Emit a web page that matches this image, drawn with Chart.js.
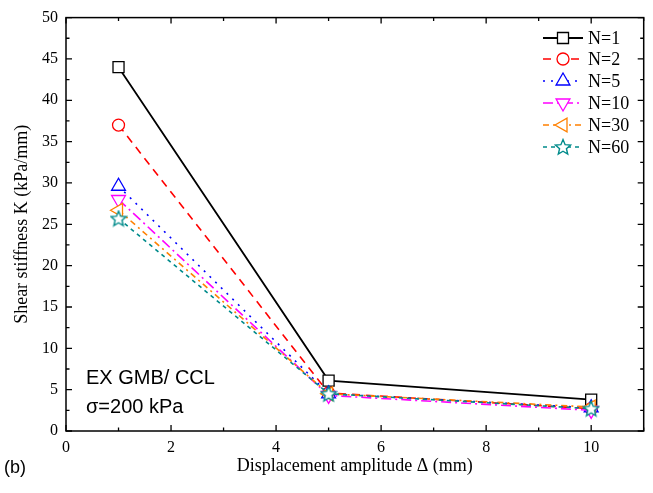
<!DOCTYPE html>
<html><head><meta charset="utf-8">
<script src="https://cdn.jsdelivr.net/npm/chart.js@4.4.1/dist/chart.umd.min.js"></script>
<style>html,body{margin:0;padding:0;background:#fff}#wrap{width:653px;height:493px}</style>
</head><body><div id="wrap"><canvas id="c" width="653" height="493"></canvas></div>
<script>
const displacement = [1, 5, 10];
const seriesNames = ['N=1', 'N=2', 'N=5', 'N=10', 'N=30', 'N=60'];
const kN1 = [44.0, 6.1, 3.8];
const kN2 = [37.0, 4.6, 2.7];
const kN5 = [29.6, 4.5, 2.8];
const kN10 = [28.0, 4.3, 2.5];
const kN30 = [26.7, 4.5, 2.9];
const kN60 = [25.7, 4.5, 2.7];
const xTicks = [0, 2, 4, 6, 8, 10];
const yTicks = [0, 5, 10, 15, 20, 25, 30, 35, 40, 45, 50];

function starImg(color){
  const cv = document.createElement('canvas');
  cv.width = 18; cv.height = 18;
  const g = cv.getContext('2d');
  g.strokeStyle = color; g.lineWidth = 1.4; g.fillStyle = '#fff';
  g.beginPath();
  for (let i = 0; i < 10; i++) {
    const r = i % 2 === 0 ? 8 : 3.6;
    const a = -Math.PI/2 + i*Math.PI/5;
    const px = 9 + r*Math.cos(a), py = 9.6 + r*Math.sin(a);
    if (i === 0) g.moveTo(px, py); else g.lineTo(px, py);
  }
  g.closePath(); g.fill(); g.stroke();
  return cv;
}

const styles = [
  {color:'#000000', dash:[], ps:'rect', r:7.8, rot:0, lw:1.8},
  {color:'#ff0000', dash:[8,6], ps:'circle', r:6, rot:0, lw:1.6},
  {color:'#0000ff', dash:[2,6], ps:'triangle', r:8, rot:0, lw:1.6},
  {color:'#ff00ff', dash:[10,4,2,4], ps:'triangle', r:8, rot:180, lw:1.6},
  {color:'#ff8000', dash:[6,4,2,4], ps:'triangle', r:8, rot:-90, lw:1.6},
  {color:'#008b8b', dash:[4,4], ps:starImg('#008b8b'), r:8, rot:0, lw:1.6}
];
const values = [kN1, kN2, kN5, kN10, kN30, kN60];

const datasets = values.map((v, i) => ({
  label: seriesNames[i],
  data: displacement.map((x, j) => ({x: x, y: v[j]})),
  borderColor: styles[i].color,
  backgroundColor: '#ffffff',
  borderWidth: styles[i].lw,
  borderDash: styles[i].dash,
  pointStyle: styles[i].ps,
  pointRadius: styles[i].r,
  pointRotation: styles[i].rot,
  pointBorderColor: styles[i].color,
  pointBackgroundColor: '#ffffff',
  pointBorderWidth: 1.3,
  tension: 0,
  order: 5 - i
}));

const frame = {
  id: 'frame',
  afterDraw(chart) {
    const ctx = chart.ctx, a = chart.chartArea;
    const xs = chart.scales.x, ys = chart.scales.y;
    ctx.save();
    ctx.strokeStyle = '#000'; ctx.lineWidth = 1.5; ctx.setLineDash([]);
    ctx.strokeRect(a.left, a.top, a.right - a.left, a.bottom - a.top);
    ctx.lineWidth = 1.3;
    ctx.beginPath();
    for (let v = 0; v <= 11; v += 1) {
      const px = xs.getPixelForValue(v);
      const L = (v % 2 === 0) ? 6 : 3.5;
      ctx.moveTo(px, a.bottom); ctx.lineTo(px, a.bottom - L);
      ctx.moveTo(px, a.top); ctx.lineTo(px, a.top + L);
    }
    for (let v = 0; v <= 50; v += 2.5) {
      const py = ys.getPixelForValue(v);
      const L = (v % 5 === 0) ? 6 : 3.5;
      ctx.moveTo(a.left, py); ctx.lineTo(a.left + L, py);
      ctx.moveTo(a.right, py); ctx.lineTo(a.right - L, py);
    }
    ctx.stroke();

    // legend
    const lx0 = 543, lx1 = 583, mx = 563;
    const ly = [38, 59, 81, 103, 125, 147];
    ctx.font = '18px "Liberation Serif", "Times New Roman", serif';
    ctx.textBaseline = 'middle'; ctx.textAlign = 'left';
    styles.forEach((s, i) => {
      ctx.strokeStyle = s.color; ctx.lineWidth = s.lw; ctx.setLineDash(s.dash);
      ctx.beginPath(); ctx.moveTo(lx0, ly[i]); ctx.lineTo(lx1, ly[i]); ctx.stroke();
      ctx.setLineDash([]);
      ctx.fillStyle = '#fff'; ctx.lineWidth = 1.3;
      Chart.helpers.drawPoint(ctx, {pointStyle: s.ps, radius: s.r, rotation: s.rot, borderWidth: 1.3}, mx, ly[i]);
      ctx.fillStyle = '#000';
      ctx.fillText(seriesNames[i], 588, ly[i] + 1);
    });

    // annotations
    ctx.font = '20px "Liberation Sans", Arial, sans-serif';
    ctx.fillStyle = '#000'; ctx.textBaseline = 'alphabetic';
    ctx.fillText('EX GMB/ CCL', 86, 384);
    ctx.fillText('σ=200 kPa', 86, 413);
    ctx.font = '18px "Liberation Sans", Arial, sans-serif';
    ctx.fillText('(b)', 4, 473);
    ctx.restore();
  }
};

new Chart(document.getElementById('c'), {
  type: 'line',
  data: {datasets},
  options: {
    responsive: false,
    animation: false,
    layout: {padding: {top: 17, right: 9, left: 0, bottom: 0}},
    plugins: {legend: {display: false}, tooltip: {enabled: false}},
    scales: {
      x: {
        type: 'linear', min: 0, max: 11,
        afterFit(s) { s.height = 62; },
        afterBuildTicks(s) { s.ticks = xTicks.map(v => ({value: v})); },
        grid: {display: false, drawTicks: false},
        border: {display: false},
        ticks: {color: '#000', padding: 7, maxRotation: 0, font: {family: '"Liberation Serif", "Times New Roman", serif', size: 16}},
        title: {display: true, text: 'Displacement amplitude Δ (mm)', color: '#000', padding: {top: 4, bottom: 16}, font: {family: '"Liberation Serif", "Times New Roman", serif', size: 18}}
      },
      y: {
        type: 'linear', min: 0, max: 50,
        afterFit(s) { s.width = 66; },
        afterBuildTicks(s) { s.ticks = yTicks.map(v => ({value: v})); },
        grid: {display: false, drawTicks: false},
        border: {display: false},
        ticks: {color: '#000', padding: 8, font: {family: '"Liberation Serif", "Times New Roman", serif', size: 16}},
        title: {display: true, text: 'Shear stiffness K (kPa/mm)', color: '#000', padding: {top: 11, bottom: 4}, font: {family: '"Liberation Serif", "Times New Roman", serif', size: 18}}
      }
    }
  },
  plugins: [frame]
});
</script></body></html>
